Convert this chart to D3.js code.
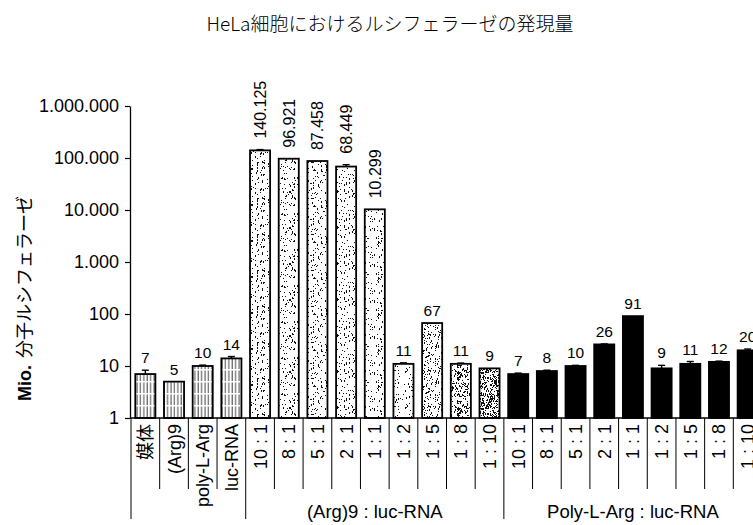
<!DOCTYPE html>
<html>
<head>
<meta charset="utf-8">
<script src="https://cdn.jsdelivr.net/npm/d3@7"></script>
<style>
  html, body { margin: 0; padding: 0; background: #fff; }
  svg { display: block; }
  text { font-family: "Liberation Sans", Arial, "Noto Sans CJK JP", sans-serif; fill: #000; }
  .jp { font-family: "Noto Sans CJK JP", "Liberation Sans", sans-serif; }
</style>
</head>
<body>
<svg id="chart" width="753" height="525"></svg>
<script>
// ---- data ----
const categories = [
  "媒体", "(Arg)9", "poly-L-Arg", "luc-RNA",
  "10 : 1", "8 : 1", "5 : 1", "2 : 1", "1 : 1", "1 : 2", "1 : 5", "1 : 8", "1 : 10",
  "10 : 1", "8 : 1", "5 : 1", "2 : 1", "1 : 1", "1 : 2", "1 : 5", "1 : 8", "1 : 10"
];
const groupOf = [
  "ctrl", "ctrl", "ctrl", "ctrl",
  "arg", "arg", "arg", "arg", "arg", "arg", "arg", "arg", "arg",
  "poly", "poly", "poly", "poly", "poly", "poly", "poly", "poly", "poly"
];
const values = [
  7, 5, 10, 14,
  140125, 96921, 87458, 68449, 10299, 11, 67, 11, 9,
  7, 8, 10, 26, 91, 9, 11, 12, 20
];
const errors = [
  1.3, 0, 0.4, 1.2,
  5000, 0, 0, 6000, 0, 0.5, 0, 0.4, 0,
  0.3, 0.3, 0.3, 0.6, 0, 1.3, 1.2, 0.4, 1.2
];
const groupLabels = [
  { name: "(Arg)9 : luc-RNA", first: 4, last: 12 },
  { name: "Poly-L-Arg : luc-RNA", first: 13, last: 21 }
];
const yTickValues = [1, 10, 100, 1000, 10000, 100000, 1000000];
const titleText = "HeLa細胞におけるルシフェラーゼの発現量";
const yTitleLatin = "Mio.";
const yTitleJp = "分子ルシフェラーゼ";

// ---- layout ----
const W = 753, H = 525;
const axisX = 130, baseY = 418, topY = 106;
const svg = d3.select("#chart");
svg.append("rect").attr("width", W).attr("height", H).attr("fill", "#fff");

// numbers written with "." as thousands separator
const locale = d3.formatLocale({ decimal: ",", thousands: ".", grouping: [3], currency: ["", ""] });
const fmt = locale.format(",d");

const x = d3.scaleBand()
  .domain(d3.range(categories.length))
  .range([131, 762])
  .paddingInner(0.3)
  .paddingOuter(0.15);
const step = x.step();
const x0 = 131;

const y = d3.scaleLog().domain([1, 1e6]).range([baseY, topY]);

// ---- fill textures ----
const defs = svg.append("defs");

// vertical hatching for the single-component controls
const hatch = defs.append("pattern")
  .attr("id", "hatch").attr("patternUnits", "userSpaceOnUse")
  .attr("width", 3.4).attr("height", 12);
hatch.append("rect").attr("width", 3.4).attr("height", 12).attr("fill", "#fff");
hatch.append("line").attr("x1", 1).attr("x2", 1).attr("y1", 0).attr("y2", 12)
  .attr("stroke", "#333").attr("stroke-width", 0.9).attr("stroke-dasharray", "9,1.5,1.5,0");

// stipple textures of increasing density (deterministic dot layout)
function lcg(seed) {
  let s = seed >>> 0;
  return () => { s = (s * 1664525 + 1013904223) >>> 0; return s / 4294967296; };
}
const stippleDensity = [0.07, 0.08, 0.085, 0.085, 0.08, 0.06, 0.12, 0.22, 0.36];
stippleDensity.forEach((dens, k) => {
  const size = 36;
  const p = defs.append("pattern")
    .attr("id", "stip" + k).attr("patternUnits", "userSpaceOnUse")
    .attr("width", size).attr("height", size);
  p.append("rect").attr("width", size).attr("height", size).attr("fill", "#fff");
  const rnd = lcg(1013 + k * 7919);
  const n = Math.round(size * size * dens);
  for (let i = 0; i < n; i++) {
    const px = Math.floor(rnd() * size), py = Math.floor(rnd() * size);
    p.append("rect").attr("x", px).attr("y", py)
      .attr("width", 1).attr("height", rnd() < 0.3 ? 2 : 1).attr("fill", "#111");
  }
});

function fillFor(i) {
  const g = groupOf[i];
  if (g === "ctrl") return "url(#hatch)";
  if (g === "arg") return "url(#stip" + (i - 4) + ")";
  return "#000";
}

// ---- title ----
svg.append("text").attr("class", "jp")
  .attr("x", 390).attr("y", 31)
  .attr("text-anchor", "middle")
  .attr("font-size", 19)
  .attr("font-weight", 300)
  .text(titleText);

// ---- y axis ----
const yAxis = d3.axisLeft(y)
  .tickValues(yTickValues)
  .tickFormat(d => fmt(d))
  .tickSize(5)
  .tickSizeOuter(0)
  .tickPadding(6);
const yg = svg.append("g").attr("transform", `translate(${axisX},0)`).call(yAxis);
yg.select(".domain").attr("stroke", "#000").attr("stroke-width", 1.3);
yg.selectAll(".tick line").attr("stroke", "#000").attr("stroke-width", 1.2);
yg.selectAll(".tick text")
  .attr("font-family", "'Liberation Sans', Arial, sans-serif")
  .attr("font-size", 18).attr("fill", "#000");

// y title (rotated)
const yt = svg.append("text")
  .attr("transform", "translate(31,401) rotate(-90)")
  .attr("text-anchor", "start")
  .attr("font-size", 18);
yt.append("tspan").attr("font-weight", "bold").text(yTitleLatin);
yt.append("tspan").attr("class", "jp").attr("dx", 7).text(yTitleJp);

// ---- bars ----
const bars = svg.append("g");
bars.selectAll("rect.bar")
  .data(values)
  .join("rect")
  .attr("class", "bar")
  .attr("x", (d, i) => x(i))
  .attr("width", x.bandwidth())
  .attr("y", d => y(d))
  .attr("height", d => baseY - y(d))
  .attr("fill", (d, i) => fillFor(i))
  .attr("stroke", "#000")
  .attr("stroke-width", 1.8);

// error bars (upper whisker only)
const eb = svg.append("g").attr("stroke", "#000").attr("stroke-width", 1.4);
values.forEach((v, i) => {
  if (!errors[i]) return;
  const cx = x(i) + x.bandwidth() / 2;
  const yt0 = y(v), yt1 = y(v + errors[i]);
  eb.append("line").attr("x1", cx).attr("x2", cx).attr("y1", yt0).attr("y2", yt1);
  eb.append("line").attr("x1", cx - 3.5).attr("x2", cx + 3.5).attr("y1", yt1).attr("y2", yt1);
});

// value labels: large numbers run vertically, small ones sit flat above the bar
const vl = svg.append("g");
values.forEach((v, i) => {
  const cx = x(i) + x.bandwidth() / 2;
  const top = y(v + (errors[i] || 0));
  if (v >= 1000) {
    vl.append("text")
      .attr("transform", `translate(${cx},${top - 11}) rotate(-90)`)
      .attr("dy", "0.36em")
      .attr("text-anchor", "start")
      .attr("font-size", 16)
      .text(fmt(v));
  } else {
    vl.append("text")
      .attr("x", cx).attr("y", top - 7)
      .attr("text-anchor", "middle")
      .attr("font-size", 15.5)
      .text(fmt(v));
  }
});

// ---- x axis baseline ----
svg.append("line")
  .attr("x1", axisX).attr("x2", W)
  .attr("y1", baseY).attr("y2", baseY)
  .attr("stroke", "#000").attr("stroke-width", 1.5);

// category separators below the axis; group borders run longer
const longBorders = new Set([0, 4, 13, 22]);
const sep = svg.append("g").attr("stroke", "#000").attr("stroke-width", 1);
d3.range(categories.length + 1).forEach(k => {
  const xx = x0 + k * step;
  sep.append("line")
    .attr("x1", xx).attr("x2", xx)
    .attr("y1", baseY).attr("y2", longBorders.has(k) ? 519 : 489);
});

// rotated category labels
const cl = svg.append("g");
categories.forEach((c, i) => {
  const cx = x(i) + x.bandwidth() / 2;
  cl.append("text")
    .attr("class", /[\u3000-\u9fff]/.test(c) ? "jp" : null)
    .attr("transform", `translate(${cx},${baseY + 6}) rotate(-90)`)
    .attr("dy", "0.36em")
    .attr("text-anchor", "end")
    .attr("font-size", 18)
    .text(c);
});

// group captions
groupLabels.forEach(g => {
  const cx = (x(g.first) + x(g.last) + x.bandwidth()) / 2;
  svg.append("text")
    .attr("x", cx).attr("y", 518)
    .attr("text-anchor", "middle")
    .attr("font-size", 18.5)
    .text(g.name);
});
</script>
</body>
</html>
